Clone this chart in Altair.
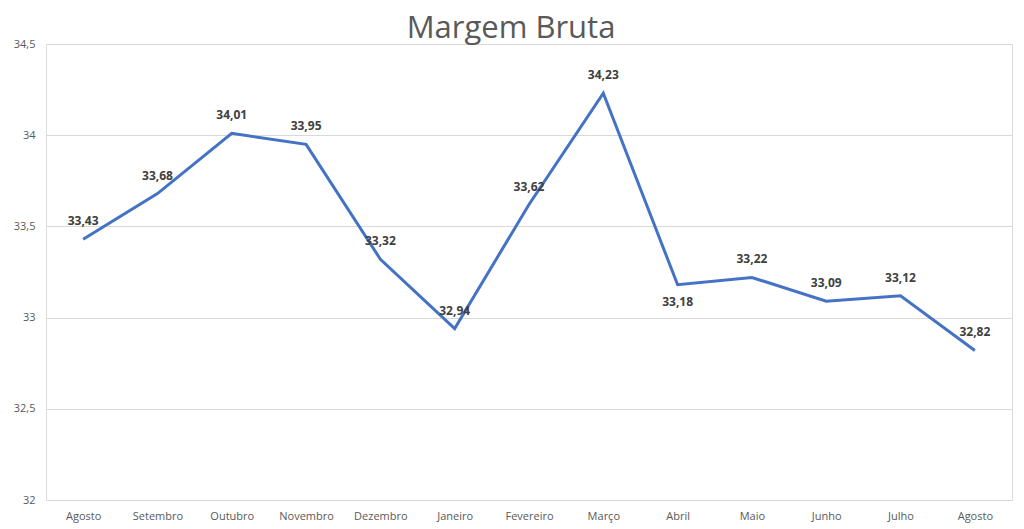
import altair as alt
import pandas as pd

meses = ["Agosto", "Setembro", "Outubro", "Novembro", "Dezembro", "Janeiro",
         "Fevereiro", "Março", "Abril", "Maio", "Junho", "Julho", "Agosto"]
margem = [33.43, 33.68, 34.01, 33.95, 33.32, 32.94, 33.62, 34.23, 33.18,
          33.22, 33.09, 33.12, 32.82]
y_ticks = [32, 32.5, 33, 33.5, 34, 34.5]

df = pd.DataFrame({"pos": list(range(len(meses))), "mes": meses, "valor": margem})

label_expr = "[" + ",".join("'" + m + "'" for m in meses) + "][datum.value]"

x_enc = alt.X("pos:O", title=None,
              scale=alt.Scale(type="point", padding=0.5),
              axis=alt.Axis(labelExpr=label_expr, labelAngle=0, domain=False,
                            ticks=False, grid=False, labelPadding=10,
                            labelFontSize=11, labelColor="#595959",
                            labelFont="Open Sans"))
y_enc = alt.Y("valor:Q", title=None,
              scale=alt.Scale(domain=[32, 34.5], nice=False, zero=False),
              axis=alt.Axis(values=y_ticks, domain=False, ticks=False,
                            labelExpr="replace(toString(datum.value), '.', ',')",
                            labelPadding=11, labelFontSize=11,
                            labelColor="#595959", labelFont="Open Sans",
                            gridColor="#d9d9d9", gridWidth=1))

base = alt.Chart(df).encode(x=x_enc, y=y_enc).transform_calculate(
    rotulo="replace(format(datum.valor, '.2f'), '.', ',')"
)

line = base.mark_line(color="#4472C4", strokeWidth=3)

text_style = dict(fontSize=12, fontWeight="bold", color="#404040",
                  font="Open Sans", baseline="middle", align="center")

labels_above = base.transform_filter("datum.pos != 8").mark_text(dy=-18, **text_style).encode(
    text="rotulo:N")
labels_below = base.transform_filter("datum.pos == 8").mark_text(dy=17, **text_style).encode(
    text="rotulo:N")

chart = alt.layer(line, labels_above, labels_below).properties(
    width=966, height=456,
    title=alt.TitleParams("Margem Bruta", fontSize=31, font="Open Sans",
                          fontWeight="normal", color="#595959",
                          anchor="middle", dx=-18, dy=13, offset=6),
    autosize=alt.AutoSizeParams(type="none"),
    padding={"left": 46, "top": 44, "right": 12, "bottom": 29},
).configure_view(stroke=None).configure(background="white")

chart.save("out.html", embed_options={"renderer": "svg", "actions": False})
